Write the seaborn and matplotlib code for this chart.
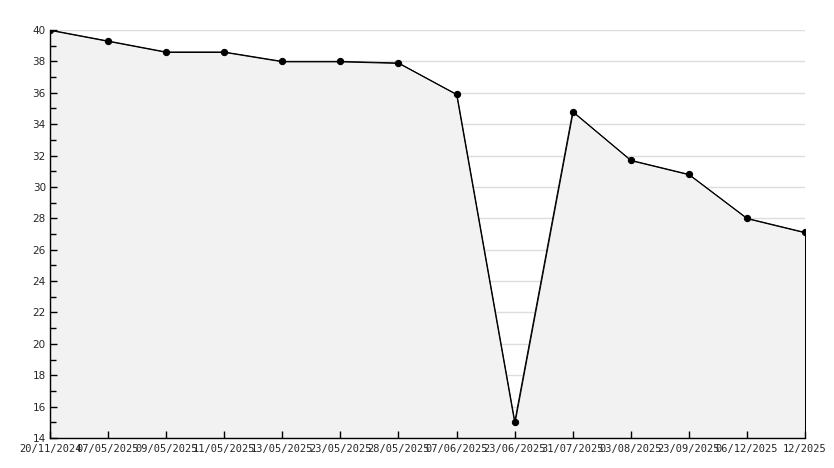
import numpy as np
import pandas as pd
import seaborn as sns
import matplotlib
matplotlib.use("Agg")
import matplotlib.pyplot as plt
from matplotlib.ticker import MultipleLocator

dates = ['20/11/2024', '07/05/2025', '09/05/2025', '11/05/2025', '13/05/2025',
         '23/05/2025', '28/05/2025', '07/06/2025', '23/06/2025', '31/07/2025',
         '03/08/2025', '23/09/2025', '06/12/2025', '12/2025']
values = [40.0, 39.3, 38.6, 38.6, 38.0, 38.0, 37.9, 35.9, 15.0, 34.8,
          31.7, 30.8, 28.0, 27.1]

df = pd.DataFrame({'pos': np.arange(len(dates)), 'value': values})

sns.set_style('white')

fig = plt.figure(figsize=(8.34, 4.68), dpi=100)
ax = fig.add_axes([50 / 834, 30 / 468, 755 / 834, 408 / 468])

ax.set_xlim(0, len(dates) - 1)
ax.set_ylim(14, 40)
ax.yaxis.set_major_locator(MultipleLocator(2))
ax.yaxis.set_minor_locator(MultipleLocator(1))

# grid lines under the filled area (ticks must stay on top of the fill)
for yv in ax.get_yticks():
    if 14 <= yv <= 40:
        ax.axhline(yv, color='#dddddd', linewidth=1, zorder=1)

# area under the line
ax.fill_between(df['pos'], df['value'], 14, facecolor='#f2f2f2',
                edgecolor='black', linewidth=0.75, zorder=2)
sns.lineplot(data=df, x='pos', y='value', color='black', linewidth=0.75,
             marker='o', markersize=4.5, markeredgecolor='black', ax=ax, zorder=3)

ax.set_xticks(df['pos'])
ax.set_xticklabels(dates, fontsize=7.5, family='DejaVu Sans Mono')
ax.tick_params(axis='y', labelsize=7.5)
ax.tick_params(axis='both', which='major', direction='in', length=5, width=1,
               color='black', pad=3, bottom=True, left=True)
ax.tick_params(axis='y', which='minor', direction='in', length=4, width=1,
               color='black', left=True)
ax.tick_params(axis='x', pad=4)

ax.grid(False)
ax.set_axisbelow(False)
ax.set_xlabel('')
ax.set_ylabel('')

for s in ['top', 'right']:
    ax.spines[s].set_visible(False)
for s in ['left', 'bottom']:
    ax.spines[s].set_color('black')
    ax.spines[s].set_linewidth(1)
    ax.spines[s].set_zorder(4)

fig.savefig('out.png', dpi=100)
